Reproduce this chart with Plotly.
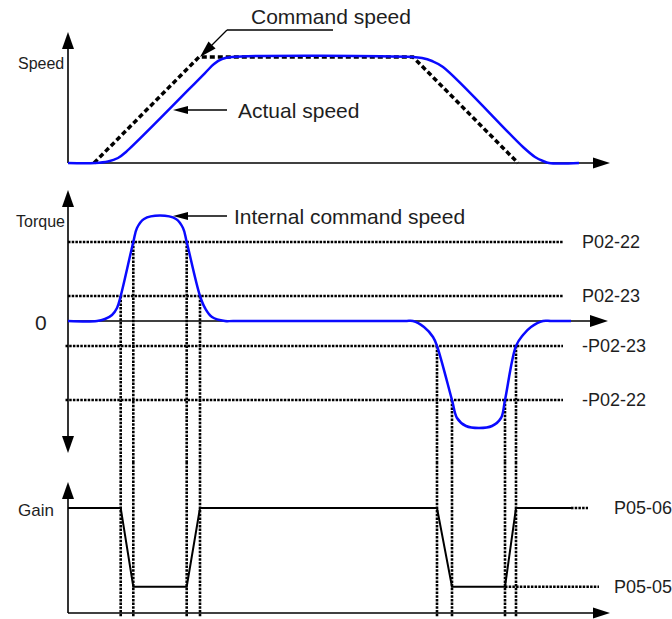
import math
import plotly.graph_objects as go

W, H = 672, 619

# ---------------- data ----------------
# time axis in arbitrary units (0 = vertical axis)
cmd_t = [2.6, 13.1, 34.5, 45.0]
cmd_speed = [0, 100, 100, 0]

act_t = [0, 2.7, 4.0, 5.0, 5.8, 13.7, 14.6, 15.4, 16.4, 34.5, 35.4, 36.4, 37.5,
         45.5, 46.7, 47.5, 48.1, 51.1]
act_speed = [0, 0, 1.4, 4.7, 10.4, 84.9, 93.4, 98.1, 100, 100, 99, 96.2, 90.6,
             15.1, 5.7, 1.9, 0, 0]

P02_22 = 79
P02_23 = 25

torque_t = [0, 2.9, 3.7, 4.4, 4.9, 5.27, 6.53, 6.9, 7.6, 9.2, 10.8, 11.5, 11.87,
            13.2, 13.7, 14.4, 15.7, 16.5, 33.7, 34.5, 35.6, 36.5, 36.9, 38.4,
            38.9, 39.8, 41.1, 42.4, 43.3, 43.7, 44.8, 45.5, 46.3, 47.5, 48.3, 50.3]
torque = [0, 0, 2, 6, 13, 25, 79, 93, 102, 105.5, 102, 93, 79,
          25, 13, 4, 0, 0, 0, 0, -6, -16, -25, -79,
          -97, -105, -107, -105, -97, -79, -25, -14, -6, 0, 0, 0]

cross_t = [5.27, 6.53, 11.87, 13.2, 36.9, 38.4, 43.7, 44.8]
cross_level = [P02_23, P02_22, P02_22, P02_23, -P02_23, -P02_22, -P02_22, -P02_23]

P05_06 = 100
P05_05 = 25
gain_t = [0] + cross_t + [50.3]
gain = [P05_06, P05_06, P05_05, P05_05, P05_06, P05_06, P05_05, P05_05, P05_06, P05_06]

threshold_labels = ["P02-22", "P02-23", "-P02-23", "-P02-22"]
threshold_values = [P02_22, P02_23, -P02_23, -P02_22]

# ---------------- layout helpers ----------------
X0_PX, X_PPU = 68, 10.0          # pixel of t=0, pixels per time unit
x_range = [-X0_PX / X_PPU, (W - X0_PX) / X_PPU]


def px(x):
    return x / W


def py(y):
    return 1 - y / H


def y_axis(top_px, bot_px, zero_px, ppu):
    rng = [(zero_px - bot_px) / ppu, (zero_px - top_px) / ppu]
    return dict(domain=[py(bot_px), py(top_px)], range=rng, anchor="x",
                visible=False, fixedrange=True), rng


ax1, r1 = y_axis(20, 175, 163, 1.06)
ax2, r2 = y_axis(175, 462, 321, 1.0)
ax3, r3 = y_axis(462, 619, 613, 1.05)

AX_COLOR = "black"
AX_W = 1.6
BLUE = "#0a0aff"
DOT = "2.5px,1.2px"
DOT_W = 2.6
TXT = "#1e1e1e"
FONT = "Liberation Sans, Arial, sans-serif"

shapes = []


def seg(xref, yref, x0, y0, x1, y1, width=AX_W, dash=None, layer="below", color=AX_COLOR):
    line = dict(color=color, width=width)
    if dash:
        line["dash"] = dash
    shapes.append(dict(type="line", xref=xref, yref=yref, x0=x0, y0=y0, x1=x1, y1=y1,
                       line=line, layer=layer))


def head(xref, yref, x, y, angle, length=17, width=11):
    a = math.radians(angle)
    ux, uy = math.cos(a), math.sin(a)
    nx, ny = -uy, ux
    bx, by = -ux * length, -uy * length
    p1 = (bx + nx * width / 2, by + ny * width / 2)
    p2 = (bx - nx * width / 2, by - ny * width / 2)
    path = f"M0,0 L{p1[0]:.2f},{p1[1]:.2f} L{p2[0]:.2f},{p2[1]:.2f} Z"
    shapes.append(dict(type="path", xref=xref, yref=yref, xsizemode="pixel",
                       ysizemode="pixel", xanchor=x, yanchor=y, path=path,
                       fillcolor="black", line=dict(width=0), layer="above"))


# speed panel axes
spd_top = (163 - 32) / 1.06
seg("x", "y", 0, 0, 0, spd_top - 5)
head("x", "y", 0, spd_top, 90, 17, 12)
seg("x", "y", 0, 0, 53.0, 0)
head("x", "y", 54.2, 0, 0, 17, 11)

# torque panel axes
seg("x", "y2", 0, -128, 0, 128)
head("x", "y2", 0, 131, 90, 17, 12)
head("x", "y2", 0, -132, -90, 17, 12)
seg("x", "y2", 0, 0, 53.0, 0)
head("x", "y2", 54.0, 0, 0, 18, 12)

# gain panel axes
gain_top = (613 - 482) / 1.05
seg("x", "y3", 0, 0, 0, gain_top - 5)
head("x", "y3", 0, gain_top, 90, 17, 12)
seg("x", "y3", 0, 0, 53.0, 0)
head("x", "y3", 54.2, 0, 0, 17, 11)

# threshold levels
for v in threshold_values:
    seg("x", "y2", -0.25 if v < 0 else 0, v, 49.5, v, width=DOT_W, dash=DOT)

# switching instants carried down into the gain panel
for t, lvl in zip(cross_t, cross_level):
    seg("x", "y2", t, lvl, t, r2[0], width=DOT_W, dash=DOT)
    seg("x", "y3", t, r3[1], t, -3, width=DOT_W, dash=DOT)

# gain level continuations
seg("x", "y3", gain_t[-1], P05_06, 52.0, P05_06, width=DOT_W, dash=DOT)
seg("x", "y3", cross_t[6], P05_05, 53.1, P05_05, width=DOT_W, dash=DOT)

# leader arrows
LW = 1.3
seg("paper", "paper", px(333), py(30), px(227), py(30), width=LW, layer="above")
seg("paper", "paper", px(227), py(30), px(206), py(51), width=LW, layer="above")
head("paper", "paper", px(200), py(57), -135, 17, 10)

seg("paper", "paper", px(227), py(110), px(185), py(110), width=LW, layer="above")
head("paper", "paper", px(173), py(110), 180, 15, 8)

seg("paper", "paper", px(227), py(216), px(185), py(216), width=LW, layer="above")
head("paper", "paper", px(173), py(216), 180, 15, 8)

# ---------------- traces ----------------
fig = go.Figure()
fig.add_trace(go.Scatter(x=cmd_t, y=cmd_speed, mode="lines", xaxis="x", yaxis="y",
                         line=dict(color="black", width=3.5, dash="5px,3px"),
                         hoverinfo="skip", showlegend=False))
fig.add_trace(go.Scatter(x=act_t, y=act_speed, mode="lines", xaxis="x", yaxis="y",
                         line=dict(color=BLUE, width=2.5, shape="spline", smoothing=1),
                         hoverinfo="skip", showlegend=False))
fig.add_trace(go.Scatter(x=torque_t, y=torque, mode="lines", xaxis="x", yaxis="y2",
                         line=dict(color=BLUE, width=2.5, shape="spline", smoothing=1),
                         hoverinfo="skip", showlegend=False))
fig.add_trace(go.Scatter(x=gain_t, y=gain, mode="lines", xaxis="x", yaxis="y3",
                         line=dict(color="black", width=2),
                         hoverinfo="skip", showlegend=False))

# ---------------- text ----------------
ann = []


def text(s, x, y, size, xanchor="left", yref="paper", ydata=None):
    ann.append(dict(text=s, x=px(x), y=py(y) if ydata is None else ydata,
                    xref="paper", yref=yref, xanchor=xanchor, yanchor="middle",
                    showarrow=False, font=dict(family=FONT, size=size, color=TXT)))


text("Command speed", 249, 17, 21)
text("Actual speed", 236, 110, 21)
text("Internal command speed", 232, 216, 21)
text("Speed", 66, 63, 16, "right")
text("Torque", 67, 222, 16, "right")
text("0", 41, 322, 21, "center")
text("Gain", 56, 510, 17, "right")
for lab, v in zip(threshold_labels, threshold_values):
    text(lab, 580, 0, 18, yref="y2", ydata=v)
text("P05-06", 612, 0, 18, yref="y3", ydata=P05_06)
text("P05-05", 612, 0, 18, yref="y3", ydata=P05_05)

fig.update_layout(
    width=W, height=H, margin=dict(l=0, r=0, t=0, b=0),
    paper_bgcolor="white", plot_bgcolor="white",
    xaxis=dict(domain=[0, 1], range=x_range, visible=False, anchor="y3", fixedrange=True),
    yaxis=ax1, yaxis2=ax2, yaxis3=ax3,
    shapes=shapes, annotations=ann, showlegend=False,
)

fig.write_html("out.html", config={"displayModeBar": False})
